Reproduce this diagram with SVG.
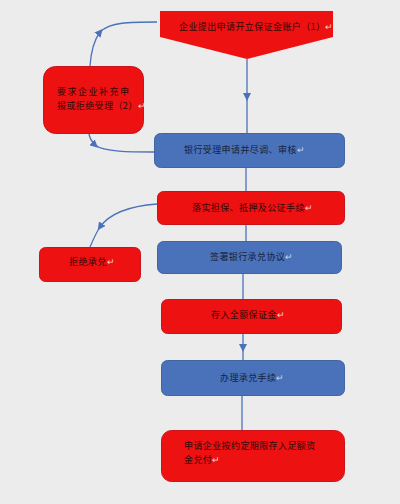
<svg xmlns="http://www.w3.org/2000/svg" width="400" height="504" viewBox="0 0 400 504">
<defs>
<style>
.red{fill:#ee1111;stroke:#c8141c;stroke-width:1}
.blue{fill:#4a72bb;stroke:#41659f;stroke-width:1}
.t{font-family:"Noto Sans CJK SC","Noto Sans",sans-serif;font-size:9px;letter-spacing:0.4px}
.tr{fill:#300a0a}
.tb{fill:#18223a}
.m{fill:#f3d0d0}
.mb{fill:#c9d4ea}
.c{fill:none;stroke:#4a72bb;stroke-width:1.3}
</style>
<marker id="arr" viewBox="0 0 10 10" refX="5" refY="5" markerWidth="8" markerHeight="8" markerUnits="userSpaceOnUse" orient="auto">
<path d="M0 0 L10 5 L0 10 Z" fill="#4a72bb"/>
</marker>
</defs>
<rect width="400" height="504" fill="#ececec"/>
<g id="connectors">
<path class="c" d="M247 59 L247 97 L247 133" marker-mid="url(#arr)"/>
<path class="c" d="M246 168 L246 191"/>
<path class="c" d="M246 224 L246 241"/>
<path class="c" d="M243 273 L243 299"/>
<path class="c" d="M243 333 L243 348 L243 360" marker-mid="url(#arr)"/>
<path class="c" d="M242 396 L242 430"/>
<path class="c" d="M90 66 C91 50 95 39 100 32 C110 22 130 22 157 22" marker-mid="url(#arr)"/>
<path class="c" d="M89 134 C90 139 92 142 95 145 C104 152 130 152 154 152" marker-mid="url(#arr)"/>
<path class="c" d="M157 204 C130 206 110 213 100 227 C96 233 93 240 90 247" marker-mid="url(#arr)"/>
</g>
<g id="n1">
<path d="M160 11 L333 11 L333 37 L247 59 L160 37 Z" fill="#ee1111"/>
<text class="t tr" x="179" y="30">企业提出申请开立保证金账户（1）<tspan class="m">↵</tspan></text>
</g>
<g id="n2">
<rect class="red" x="43.5" y="66.5" width="100" height="67" rx="12"/>
<text class="t tr" x="57" y="95" style="letter-spacing:1.5px">要求企业补充申</text>
<text class="t tr" x="57" y="109">报或拒绝受理（2）<tspan class="m">↵</tspan></text>
</g>
<g id="n3">
<rect class="blue" x="154.5" y="133.5" width="190" height="34" rx="6"/>
<text class="t tb" x="184" y="153">银行受理申请并尽调、审核<tspan class="mb">↵</tspan></text>
</g>
<g id="n4">
<rect class="red" x="157.5" y="191.5" width="187" height="33" rx="6"/>
<text class="t tr" x="192" y="211">落实担保、抵押及公证手续<tspan class="m">↵</tspan></text>
</g>
<g id="n5">
<rect class="red" x="39.5" y="247.5" width="101" height="34" rx="6"/>
<text class="t tr" x="69" y="265">拒绝承兑<tspan class="m">↵</tspan></text>
</g>
<g id="n6">
<rect class="blue" x="157.5" y="241.5" width="184" height="32" rx="6"/>
<text class="t tb" x="210" y="260">签署银行承兑协议<tspan class="mb">↵</tspan></text>
</g>
<g id="n7">
<rect class="red" x="161.5" y="299.5" width="180" height="34" rx="6"/>
<text class="t tr" x="211" y="318">存入全额保证金<tspan class="m">↵</tspan></text>
</g>
<g id="n8">
<rect class="blue" x="161.5" y="360.5" width="183" height="35" rx="6"/>
<text class="t tb" x="220" y="381">办理承兑手续<tspan class="mb">↵</tspan></text>
</g>
<g id="n9">
<rect class="red" x="161.5" y="430.5" width="183" height="51" rx="10"/>
<text class="t tr" x="184" y="449">申请企业按约定期限存入足额资</text>
<text class="t tr" x="184" y="463">金兑付<tspan class="m">↵</tspan></text>
</g>
</svg>
